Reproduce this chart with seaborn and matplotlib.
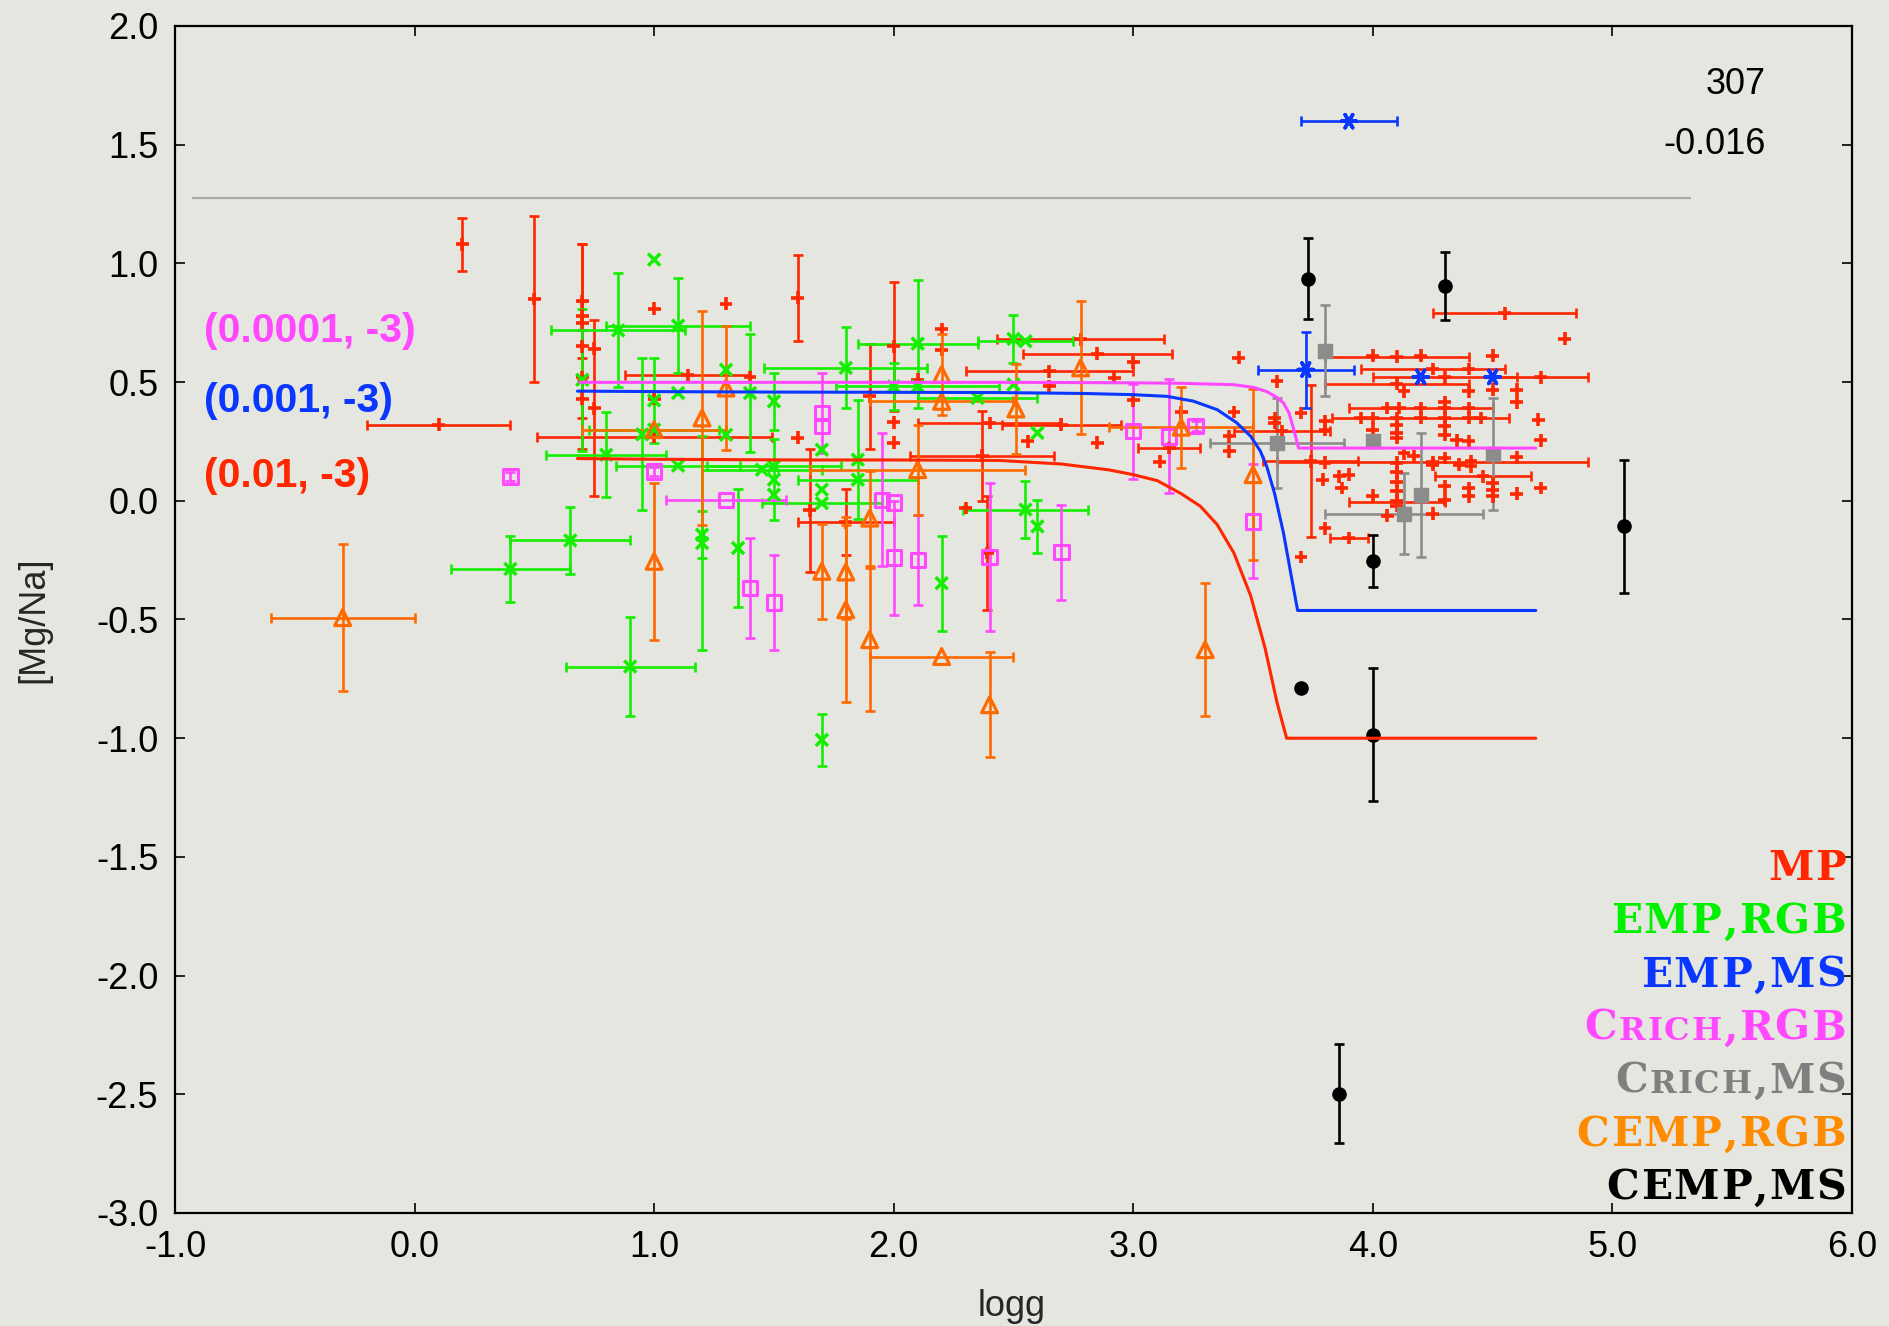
import numpy as np
import matplotlib
matplotlib.use("Agg")
import matplotlib.pyplot as plt
import seaborn as sns
from matplotlib.offsetbox import TextArea, HPacker, AnnotationBbox

# ---------------- data: [Mg/Na] against log g ----------------
# MP stars
mp_logg = [0.20, 0.50, 0.10, 0.70, 0.70, 0.70, 0.70, 0.70, 0.70, 0.75,
           0.75, 1.00, 1.00, 1.00, 1.14, 1.30, 1.40, 1.60, 1.60, 1.65,
           1.80, 1.90, 2.00, 2.00, 2.00, 2.10, 2.20, 2.20, 2.30, 2.37,
           2.39, 2.40, 2.56, 2.65, 2.65, 2.70, 2.78, 2.85, 2.85, 2.92,
           3.00, 3.00, 3.11, 3.15, 3.20, 3.40, 3.40, 3.42, 3.44, 3.59,
           3.59, 3.60, 3.62, 3.70, 3.74, 3.80, 3.80, 3.80, 3.79, 3.86,
           3.90, 3.87, 3.80, 3.90, 3.70,
           4.55, 4.80, 4.10, 4.00, 4.20, 4.50, 4.25, 4.40, 4.30, 4.70,
           4.10, 4.13, 4.40, 4.60, 4.60, 4.50, 4.06, 4.11, 4.20, 4.30,
           4.40, 4.30, 4.69, 3.95, 4.00, 4.10, 4.20, 4.30, 4.40, 4.45,
           4.00, 4.10, 4.10, 4.10, 4.30, 4.30, 4.35, 4.40, 4.70, 4.25,
           4.17, 4.13, 4.25, 4.30, 4.36, 4.41, 4.41, 4.60, 4.46, 4.10,
           4.10, 4.10, 4.10, 4.10, 4.10, 4.30, 4.40, 4.40, 4.60, 4.70,
           4.50, 4.50, 4.50, 4.10, 4.00, 4.06, 4.25, 4.30]
mp_mgna = [1.08, 0.85, 0.32, 0.84, 0.78, 0.75, 0.65, 0.52, 0.43, 0.64,
           0.39, 0.81, 0.43, 0.27, 0.53, 0.83, 0.52, 0.855, 0.265, -0.04,
           -0.09, 0.44, 0.65, 0.33, 0.244, 0.51, 0.724, 0.636, -0.03, 0.19,
           -0.22, 0.328, 0.25, 0.545, 0.482, 0.32, 0.68, 0.62, 0.244, 0.517,
           0.584, 0.423, 0.164, 0.222, 0.373, 0.271, 0.208, 0.374, 0.602, 0.349,
           0.328, 0.503, 0.293, 0.37, 0.166, 0.335, 0.30, 0.16, 0.089, 0.103,
           0.11, 0.054, -0.115, -0.157, -0.237,
           0.79, 0.683, 0.607, 0.611, 0.611, 0.611, 0.555, 0.555, 0.52, 0.52,
           0.493, 0.461, 0.461, 0.468, 0.415, 0.468, 0.391, 0.391, 0.391, 0.391,
           0.391, 0.415, 0.342, 0.349, 0.349, 0.349, 0.349, 0.349, 0.349, 0.349,
           0.30, 0.321, 0.285, 0.265, 0.314, 0.278, 0.255, 0.25, 0.255, 0.163,
           0.187, 0.20, 0.152, 0.18, 0.152, 0.166, 0.145, 0.184, 0.103, 0.16,
           0.12, 0.08, 0.04, 0.00, -0.02, 0.061, 0.054, 0.019, 0.03, 0.054,
           0.075, 0.047, 0.019, -0.006, 0.021, -0.063, -0.054, 0.005]
mp_dlogg = [0, 0, 0.30, 0, 0, 0, 0, 0, 0, 0,
            0, 0, 0, 0.49, 0.26, 0, 0, 0, 0, 0,
            0.20, 0, 0, 0, 0, 0, 0, 0, 0, 0.30,
            0, 0.30, 0, 0.35, 0, 0.25, 0.35, 0.31, 0, 0,
            0, 0, 0, 0.13, 0, 0, 0, 0, 0, 0,
            0, 0, 0.20, 0, 0.20, 0, 0, 0, 0, 0,
            0, 0, 0, 0.08, 0,
            0.30, 0, 0.30, 0, 0, 0, 0.30, 0, 0.30, 0.20,
            0.30, 0, 0, 0, 0, 0, 0, 0, 0.30, 0,
            0, 0, 0, 0, 0, 0, 0.37, 0, 0, 0,
            0, 0, 0, 0, 0, 0, 0, 0, 0, 0.65,
            0, 0, 0, 0, 0, 0, 0, 0, 0.20, 0,
            0, 0, 0, 0, 0, 0, 0, 0, 0, 0,
            0, 0, 0, 0.20, 0, 0, 0, 0]
mp_dmgna = [0.11, 0.35, 0, 0.24, 0.06, 0, 0.43, 0, 0.08, 0,
            0.37, 0, 0, 0, 0, 0, 0, 0.18, 0, 0.26,
            0.14, 0.22, 0.27, 0, 0, 0, 0, 0, 0, 0.19,
            0.24, 0, 0, 0, 0, 0, 0, 0, 0, 0,
            0, 0, 0, 0, 0, 0, 0, 0, 0, 0,
            0, 0, 0, 0, 0.32, 0, 0, 0, 0, 0,
            0, 0, 0, 0, 0] + [0] * 68

# EMP giants
emp_rgb_logg = [0.40, 0.65, 0.90, 0.70, 0.85, 1.10, 0.80, 1.00, 1.00, 1.10,
                1.10, 1.20, 1.20, 1.30, 1.30, 1.35, 1.40, 1.45, 1.50, 1.50,
                1.50, 1.50, 1.70, 1.70, 1.70, 1.70, 1.80, 1.85, 1.85, 2.00,
                2.10, 2.10, 2.20, 2.35, 2.50, 2.55, 2.50, 2.60, 2.55, 2.60,
                1.00, 0.95]
emp_rgb_mgna = [-0.287, -0.167, -0.698, 0.51, 0.718, 0.738, 0.194, 1.016, 0.423, 0.454,
                0.148, -0.143, -0.178, 0.552, 0.278, -0.199, 0.454, 0.131, 0.419, 0.145,
                0.089, 0.026, 0.215, 0.047, -0.01, -1.007, 0.56, 0.173, 0.089, 0.482,
                0.662, 0.482, -0.347, 0.433, 0.682, 0.672, 0.49, 0.286, -0.037, -0.108,
                0.30, 0.28]
emp_rgb_dlogg = [0.25, 0.25, 0.27, 0, 0.28, 0.30, 0.25, 0, 0, 0,
                 0.26, 0, 0, 0, 0, 0, 0, 0.25, 0, 0.28,
                 0, 0, 0, 0, 0.25, 0, 0.34, 0, 0.25, 0,
                 0.25, 0.34, 0, 0.25, 0, 0.20, 0, 0, 0.26, 0,
                 0.27, 0]
emp_rgb_dmgna = [0.14, 0.14, 0.21, 0.30, 0.24, 0.20, 0.18, 0, 0.18, 0,
                 0, 0.10, 0.45, 0, 0, 0.25, 0.25, 0, 0.12, 0,
                 0.17, 0, 0, 0, 0, 0.11, 0.17, 0.25, 0, 0.10,
                 0.27, 0, 0.20, 0, 0.10, 0, 0, 0, 0.12, 0.11,
                 0, 0.32]

# EMP dwarfs
emp_ms_logg = [3.90, 3.72, 4.20, 4.50]
emp_ms_mgna = [1.599, 0.553, 0.522, 0.522]
emp_ms_dlogg = [0.20, 0.20, 0, 0]
emp_ms_dmgna = [0, 0.16, 0, 0]

# C-rich giants
crich_rgb_logg = [0.40, 1.00, 1.30, 1.40, 1.50, 1.70, 1.70, 1.95, 2.00, 2.00,
                  2.10, 2.40, 2.70, 3.00, 3.15, 3.26, 3.50]
crich_rgb_mgna = [0.102, 0.123, 0.002, -0.368, -0.428, 0.37, 0.314, 0.004, -0.007, -0.239,
                  -0.248, -0.237, -0.217, 0.293, 0.271, 0.316, -0.087]
crich_rgb_dlogg = [0, 0, 0.25, 0, 0, 0, 0, 0, 0, 0,
                   0, 0, 0, 0, 0, 0, 0]
crich_rgb_dmgna = [0.02, 0.02, 0, 0.21, 0.20, 0.17, 0, 0.28, 0, 0.24,
                   0.19, 0.31, 0.20, 0.20, 0.24, 0.02, 0.24]

# C-rich dwarfs
crich_ms_logg = [3.80, 3.60, 4.00, 4.50, 4.20, 4.13]
crich_ms_mgna = [0.633, 0.244, 0.25, 0.197, 0.024, -0.054]
crich_ms_dlogg = [0, 0.28, 0, 0, 0, 0.33]
crich_ms_dmgna = [0.19, 0.19, 0, 0.235, 0.26, 0.17]

# CEMP giants
cemp_rgb_logg = [-0.30, 1.00, 1.00, 1.20, 1.30, 1.70, 1.80, 1.80, 1.90, 1.90,
                 2.10, 2.20, 2.20, 2.20, 2.40, 2.51, 2.78, 3.20, 3.30, 3.50]
cemp_rgb_mgna = [-0.492, -0.255, 0.30, 0.349, 0.475, -0.297, -0.30, -0.459, -0.073, -0.585,
                 0.131, 0.532, 0.419, -0.656, -0.859, 0.387, 0.56, 0.31, -0.627, 0.11]
cemp_rgb_dlogg = [0.30, 0, 0.30, 0, 0, 0, 0, 0, 0, 0,
                  0.45, 0, 0.30, 0.30, 0, 0, 0, 0.30, 0, 0]
cemp_rgb_dmgna = [0.31, 0.33, 0, 0.45, 0.26, 0.20, 0.20, 0.39, 0.20, 0.30,
                  0.19, 0.17, 0, 0, 0.22, 0.19, 0.28, 0.17, 0.28, 0.36]

# CEMP dwarfs
cemp_ms_logg = [3.73, 4.30, 5.05, 4.00, 3.70, 4.00, 3.86]
cemp_ms_mgna = [0.935, 0.904, -0.107, -0.255, -0.787, -0.985, -2.497]
cemp_ms_dlogg = [0, 0, 0, 0, 0, 0, 0]
cemp_ms_dmgna = [0.17, 0.143, 0.28, 0.11, 0, 0.28, 0.21]

# model tracks (dilution parameters shown in the labels)
track_a_logg = [0.69, 1.50, 2.50, 3.00, 3.20, 3.42, 3.50, 3.557, 3.60, 3.627,
                3.65, 3.67, 3.69, 4.68]
track_a_mgna = [0.499, 0.499, 0.499, 0.497, 0.495, 0.489, 0.478, 0.46, 0.435, 0.412,
                0.37, 0.30, 0.222, 0.222]
track_b_logg = [0.68, 1.00, 1.50, 2.00, 2.44, 2.80, 3.00, 3.14, 3.25, 3.35,
                3.43, 3.49, 3.53, 3.557, 3.59, 3.627, 3.66, 3.686, 4.68]
track_b_mgna = [0.462, 0.46, 0.458, 0.457, 0.456, 0.452, 0.447, 0.44, 0.42, 0.384,
                0.33, 0.272, 0.21, 0.145, 0.03, -0.136, -0.32, -0.462, -0.462]
track_c_logg = [0.68, 1.00, 1.60, 2.00, 2.44, 2.70, 2.90, 3.00, 3.10, 3.20,
                3.28, 3.35, 3.42, 3.49, 3.55, 3.60, 3.64, 4.68]
track_c_mgna = [0.178, 0.175, 0.172, 0.172, 0.17, 0.155, 0.13, 0.11, 0.085, 0.03,
                -0.023, -0.10, -0.22, -0.40, -0.62, -0.85, -1.0, -1.0]

track_labels = ["(0.0001, -3)", "(0.001, -3)", "(0.01, -3)"]
class_labels = ["MP", "EMP,RGB", "EMP,MS", "Crich,RGB", "Crich,MS", "CEMP,RGB", "CEMP,MS"]
summary_lines = ["307", "-0.016"]
ref_level = 1.274

x_ticks = np.arange(-1.0, 6.01, 1.0)
y_ticks = np.arange(-3.0, 2.01, 0.5)

# ---------------- style ----------------
RED = "#ff2600"
GREEN = "#14ee00"
BLUE = "#0a37ff"
MAGENTA = "#ff48ff"
GRAY = "#8c8c8c"
ORANGE = "#ff6a00"
BLACK = "#000000"
BG = "#e6e6e0"

sns.set_theme(style="ticks")
plt.rcParams["font.family"] = ["Liberation Sans", "DejaVu Sans"]
plt.rcParams["axes.unicode_minus"] = False

fig = plt.figure(figsize=(18.89, 13.26), dpi=100)
fig.patch.set_facecolor(BG)
ax = fig.add_axes([175 / 1889, 1 - 1213 / 1326, (1852 - 175) / 1889, (1213 - 26) / 1326])
ax.set_facecolor(BG)


def draw_class(xs, ys, dx, dy, color, marker, size, lw, filled, z):
    xs, ys, dx, dy = (np.asarray(v, dtype=float) for v in (xs, ys, dx, dy))
    bar_kw = dict(fmt="none", ecolor=color, elinewidth=1.9, capsize=3.5, capthick=1.9, zorder=z)
    sel = dx > 0
    if sel.any():
        ax.errorbar(xs[sel], ys[sel], xerr=dx[sel], **bar_kw)
    sel = dy > 0
    if sel.any():
        ax.errorbar(xs[sel], ys[sel], yerr=dy[sel], **bar_kw)
    sns.scatterplot(x=xs, y=ys, marker=marker, s=size, color=color, ax=ax,
                    legend=False, zorder=z + 0.5)
    coll = ax.collections[-1]
    coll.set_facecolor(color if filled else "none")
    coll.set_edgecolor(color)
    coll.set_linewidth(lw)


draw_class(mp_logg, mp_mgna, mp_dlogg, mp_dmgna, RED, "+", 85, 2.6, False, 2)
draw_class(emp_rgb_logg, emp_rgb_mgna, emp_rgb_dlogg, emp_rgb_dmgna, GREEN, "x", 75, 2.5, False, 2.1)
draw_class(emp_ms_logg, emp_ms_mgna, emp_ms_dlogg, emp_ms_dmgna, BLUE, (6, 2, 90), 120, 2.5, False, 2.2)
draw_class(crich_rgb_logg, crich_rgb_mgna, crich_rgb_dlogg, crich_rgb_dmgna, MAGENTA, "s", 105, 2.2, False, 2.3)
draw_class(crich_ms_logg, crich_ms_mgna, crich_ms_dlogg, crich_ms_dmgna, GRAY, "s", 105, 1.0, True, 2.4)
draw_class(cemp_rgb_logg, cemp_rgb_mgna, cemp_rgb_dlogg, cemp_rgb_dmgna, ORANGE, "^", 130, 2.3, False, 2.5)
draw_class(cemp_ms_logg, cemp_ms_mgna, cemp_ms_dlogg, cemp_ms_dmgna, BLACK, "o", 90, 1.0, True, 2.6)

# model tracks
for tx, ty, col in ((track_c_logg, track_c_mgna, RED),
                    (track_b_logg, track_b_mgna, BLUE),
                    (track_a_logg, track_a_mgna, MAGENTA)):
    sns.lineplot(x=tx, y=ty, sort=False, estimator=None, color=col, linewidth=2.2,
                 ax=ax, legend=False, zorder=6)

# reference level
ax.hlines(ref_level, -0.93, 5.33, colors="#a9a9a6", linewidth=1.6, zorder=1)

# axes
ax.set_xlim(-1.0, 6.0)
ax.set_ylim(-3.0, 2.0)
ax.set_xticks(x_ticks)
ax.set_xticklabels([f"{t:.1f}" for t in x_ticks])
ax.set_yticks(y_ticks)
ax.set_yticklabels([f"{t:.1f}" for t in y_ticks])
ax.tick_params(axis="both", direction="in", length=7, width=1.2, colors="black",
               labelsize=26, top=True, right=True)
ax.tick_params(axis="x", pad=12)
ax.tick_params(axis="y", pad=12)
for sp in ax.spines.values():
    sp.set_visible(True)
    sp.set_linewidth(1.6)
    sp.set_color("black")

ax.set_xlabel("logg", fontsize=26, va="center")
ax.xaxis.set_label_coords(0.499, -(1307 - 1213) / 1187)
ax.set_ylabel("[Mg/Na]", fontsize=26, va="center")
ax.yaxis.set_label_coords((34 - 175) / 1677, 0.5)

# summary numbers (top right)
for txt, yv in zip(summary_lines, (1.753, 1.50)):
    ax.text(5.64, yv, txt, fontsize=26, ha="right", va="center", color="black")

# track labels
for txt, yv, col in zip(track_labels, (0.716, 0.419, 0.103), (MAGENTA, BLUE, RED)):
    ax.text(-0.878, yv, txt, fontsize=29.5, fontweight="bold",
            ha="left", va="center", color=col)

# class key (small caps lettering)
key_font = ["DejaVu Serif"]


def small_caps(text, color, size):
    parts = []
    for ch in text:
        if ch.islower():
            parts.append(TextArea(ch.upper(), textprops=dict(color=color, fontsize=size * 0.78,
                                                             family=key_font, fontweight="bold")))
        else:
            parts.append(TextArea(ch, textprops=dict(color=color, fontsize=size,
                                                     family=key_font, fontweight="bold")))
    return HPacker(children=parts, align="baseline", pad=0, sep=1.2)


key_colors = [RED, "#00f000", BLUE, MAGENTA, "#7f7f7f", "#ff8c00", BLACK]
for i, (lab, col) in enumerate(zip(class_labels, key_colors)):
    box = small_caps(lab, col, 29.5)
    ab = AnnotationBbox(box, (5.975, -1.552 - 0.224 * i), xycoords="data",
                        box_alignment=(1.0, 0.5), frameon=False, pad=0, zorder=8)
    ax.add_artist(ab)

fig.savefig("out.png", dpi=100, facecolor=BG)
